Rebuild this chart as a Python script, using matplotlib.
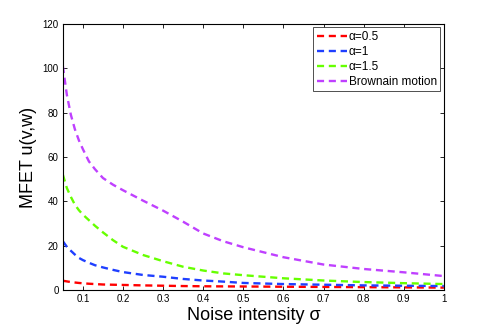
import matplotlib
matplotlib.use("Agg")
import matplotlib.pyplot as plt

plt.rcParams["font.family"] = ["Liberation Sans", "DejaVu Sans"]

# noise intensity values
sigma = [0.05, 0.06, 0.07, 0.08, 0.09, 0.1, 0.115, 0.13, 0.15, 0.175, 0.2,
         0.25, 0.3, 0.35, 0.4, 0.45, 0.5, 0.6, 0.7, 0.8, 0.9, 1.0]

# MFET values
alpha_05 = [4.2, 3.9, 3.6, 3.4, 3.2, 3.05, 2.85, 2.7, 2.5, 2.4, 2.3,
            2.1, 1.95, 1.8, 1.7, 1.65, 1.6, 1.5, 1.4, 1.3, 1.2, 1.1]
alpha_1 = [22, 19.5, 17.7, 16, 14.5, 13.5, 12.3, 11.2, 10.2, 9.1, 8.1,
           6.8, 6.0, 5.0, 4.3, 3.8, 3.2, 2.7, 2.4, 2.1, 1.95, 1.8]
alpha_15 = [52, 46, 42, 38.5, 36, 34, 31.5, 29, 26, 22.5, 19.5,
            15.8, 13, 10.5, 8.8, 7.5, 6.7, 5.3, 4.3, 3.6, 3.1, 2.7]
brownian = [101, 88, 79, 72.5, 67.5, 63.5, 58, 54.5, 50.5, 47.5, 45,
            40.3, 35.8, 30.8, 25.5, 22, 19.3, 14.8, 11.5, 9.5, 8.0, 6.3]

labels = ["\u03b1=0.5", "\u03b1=1", "\u03b1=1.5", "Brownain motion"]
colors = ["#ff0000", "#1f3fff", "#66ff00", "#bf40ff"]

fig = plt.figure(figsize=(4.91, 3.27), dpi=100)
ax = fig.add_axes([0.128, 0.113, 0.776, 0.814])

for ys, lab, c in zip([alpha_05, alpha_1, alpha_15, brownian], labels, colors):
    ax.plot(sigma, ys, linestyle=(0, (3.0, 2.0)), color=c, linewidth=1.7, label=lab)

ax.set_xlim(0.05, 1)
ax.set_ylim(0, 120)
ax.set_xticks([0.1, 0.2, 0.3, 0.4, 0.5, 0.6, 0.7, 0.8, 0.9, 1])
ax.set_xticklabels(["0.1", "0.2", "0.3", "0.4", "0.5", "0.6", "0.7", "0.8", "0.9", "1"])
ax.set_yticks([0, 20, 40, 60, 80, 100, 120])
ax.tick_params(direction="in", top=True, right=True, labelsize=7, length=3, width=0.6, pad=3)
for s in ax.spines.values():
    s.set_linewidth(0.8)

ax.set_xlabel("Noise intensity \u03c3", fontsize=13, labelpad=2)
ax.set_ylabel("MFET u(v,w)", fontsize=13, labelpad=4)

leg = ax.legend(loc="upper right", fontsize=8.5, handlelength=2.6, handletextpad=0.1,
                borderaxespad=0.3, fancybox=False, framealpha=1, labelspacing=0.25,
                borderpad=0.3)
leg.get_frame().set_edgecolor("#333333")
leg.get_frame().set_linewidth(0.6)

fig.savefig("out.png", dpi=100)
